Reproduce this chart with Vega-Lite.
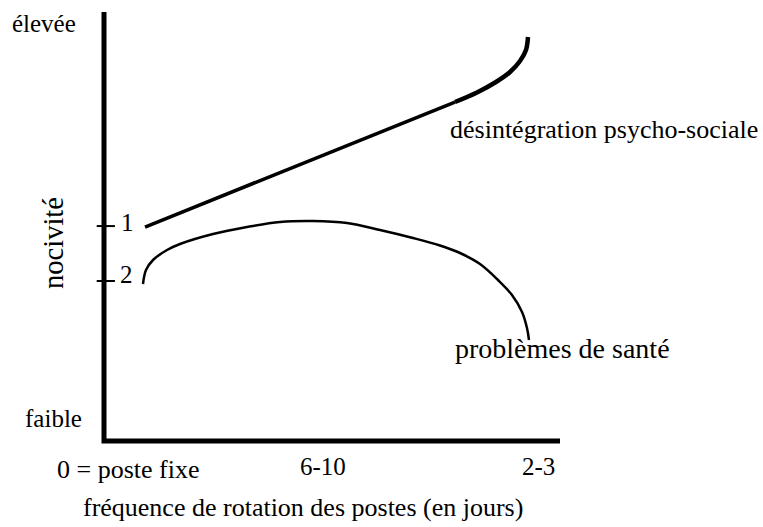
{
  "$schema": "https://vega.github.io/schema/vega-lite/v6.json",
  "width": 763,
  "height": 527,
  "autosize": {"type": "fit", "contains": "padding"},
  "padding": 0,
  "background": "white",
  "config": {"view": {"stroke": null}},
  "datasets": {
    "axes": [
      {"x": 0, "y": 100, "o": 0},
      {"x": 0, "y": 0, "o": 1},
      {"x": 100, "y": 0, "o": 2}
    ],
    "ticks": [
      {"x": -1.6, "x2": 2.4, "y": 50.1},
      {"x": -1.6, "x2": 2.4, "y": 37.3}
    ],
    "curves": [
      {"s": "a", "o": 0, "x": 8.99, "y": 49.88},
      {"s": "a", "o": 1, "x": 76.97, "y": 79.02},
      {"s": "b", "o": 0, "x": 76.97, "y": 79.02},
      {"s": "b", "o": 1, "x": 81.80, "y": 81.24},
      {"s": "b", "o": 2, "x": 85.96, "y": 83.68},
      {"s": "b", "o": 3, "x": 89.04, "y": 86.01},
      {"s": "b", "o": 4, "x": 91.23, "y": 88.58},
      {"s": "b", "o": 5, "x": 92.54, "y": 91.14},
      {"s": "b", "o": 6, "x": 92.98, "y": 94.17},
      {"s": "c", "o": 0, "x": 8.55, "y": 36.60},
      {"s": "c", "o": 1, "x": 9.21, "y": 39.86},
      {"s": "c", "o": 2, "x": 10.75, "y": 42.19},
      {"s": "c", "o": 3, "x": 13.82, "y": 44.52},
      {"s": "c", "o": 4, "x": 16.67, "y": 45.92},
      {"s": "c", "o": 5, "x": 23.90, "y": 48.25},
      {"s": "c", "o": 6, "x": 31.36, "y": 49.88},
      {"s": "c", "o": 7, "x": 38.60, "y": 51.05},
      {"s": "c", "o": 8, "x": 45.83, "y": 51.28},
      {"s": "c", "o": 9, "x": 53.29, "y": 50.82},
      {"s": "c", "o": 10, "x": 60.53, "y": 49.18},
      {"s": "c", "o": 11, "x": 67.76, "y": 47.32},
      {"s": "c", "o": 12, "x": 73.68, "y": 45.57},
      {"s": "c", "o": 13, "x": 78.07, "y": 43.82},
      {"s": "c", "o": 14, "x": 82.46, "y": 41.26},
      {"s": "c", "o": 15, "x": 86.40, "y": 37.53},
      {"s": "c", "o": 16, "x": 89.47, "y": 34.03},
      {"s": "c", "o": 17, "x": 91.67, "y": 30.07},
      {"s": "c", "o": 18, "x": 92.76, "y": 26.34},
      {"s": "c", "o": 19, "x": 93.20, "y": 23.54}
    ],
    "labels": [
      {"label": "élevée", "x": -20.18, "y": 95.34},
      {"label": "faible", "x": -17.32, "y": 3.26},
      {"label": "0 = poste fixe", "x": -10.31, "y": -8.62},
      {"label": "6-10", "x": 42.98, "y": -7.93},
      {"label": "2-3", "x": 91.67, "y": -7.93},
      {"label": "fréquence de rotation des postes (en jours)", "x": -4.61, "y": -17.48},
      {"label": "1", "x": 3.73, "y": 48.95},
      {"label": "2", "x": 3.51, "y": 36.83},
      {"label": "désintégration psycho-sociale", "x": 75.88, "y": 70.63},
      {"label": "problèmes de santé", "x": 76.97, "y": 19.35}
    ],
    "vlabels": [
      {"label": "nocivité", "x": -8.99, "y": 46.15}
    ]
  },
  "encoding": {
    "x": {"field": "x", "type": "quantitative", "scale": {"domain": [-22.807, 144.518], "nice": false, "zero": false}, "axis": null},
    "y": {"field": "y", "type": "quantitative", "scale": {"domain": [-20.047, 102.797], "nice": false, "zero": false}, "axis": null}
  },
  "layer": [
    {
      "data": {"name": "axes"},
      "mark": {"type": "line", "stroke": "black", "strokeWidth": 5, "strokeJoin": "miter", "strokeCap": "butt"},
      "encoding": {"order": {"field": "o", "type": "quantitative"}}
    },
    {
      "data": {"name": "ticks"},
      "mark": {"type": "rule", "stroke": "black", "strokeWidth": 2},
      "encoding": {"x2": {"field": "x2"}}
    },
    {
      "data": {"name": "curves"},
      "transform": [{"filter": "datum.s === 'a'"}],
      "mark": {"type": "line", "stroke": "black", "strokeWidth": 3.5, "strokeCap": "butt"},
      "encoding": {"order": {"field": "o", "type": "quantitative"}}
    },
    {
      "data": {"name": "curves"},
      "transform": [{"filter": "datum.s === 'b'"}],
      "mark": {"type": "line", "stroke": "black", "strokeWidth": 4.5, "interpolate": "catmull-rom", "strokeCap": "butt"},
      "encoding": {"order": {"field": "o", "type": "quantitative"}}
    },
    {
      "data": {"name": "curves"},
      "transform": [{"filter": "datum.s === 'c'"}],
      "mark": {"type": "line", "stroke": "black", "strokeWidth": 2.5, "interpolate": "catmull-rom", "strokeCap": "butt"},
      "encoding": {"order": {"field": "o", "type": "quantitative"}}
    },
    {
      "data": {"name": "labels"},
      "mark": {"type": "text", "align": "left", "baseline": "alphabetic", "font": "Liberation Serif", "color": "black"},
      "encoding": {
        "text": {"field": "label"},
        "size": {
          "condition": [
            {"test": "datum.label === 'problèmes de santé'", "value": 28},
            {"test": "datum.label === 'désintégration psycho-sociale' || datum.label === '0 = poste fixe' || indexof(datum.label, 'fréquence') === 0", "value": 26}
          ],
          "value": 25
        }
      }
    },
    {
      "data": {"name": "vlabels"},
      "mark": {"type": "text", "align": "center", "baseline": "alphabetic", "angle": 270, "font": "Liberation Serif", "fontSize": 28.5, "color": "black"},
      "encoding": {"text": {"field": "label"}}
    }
  ]
}
